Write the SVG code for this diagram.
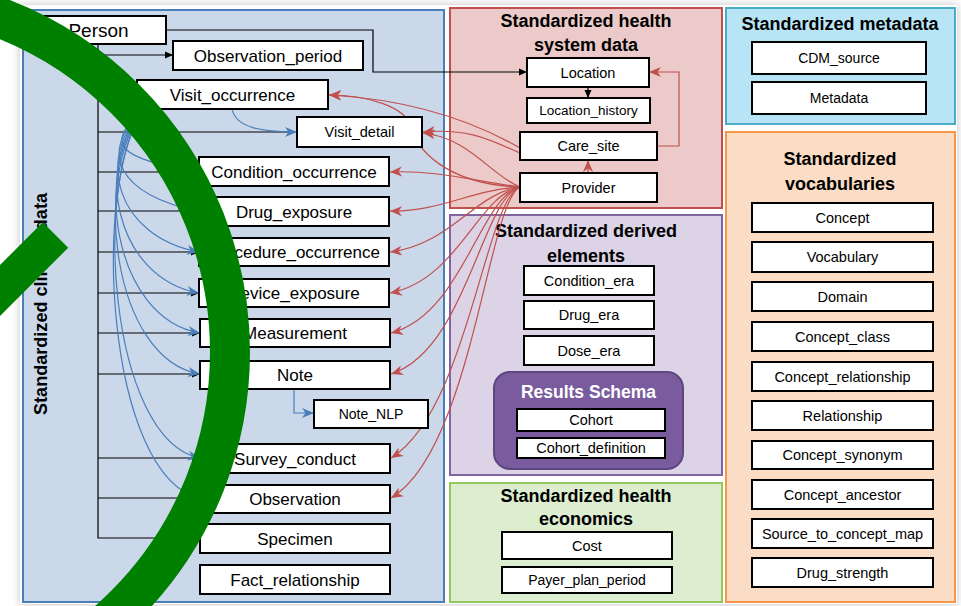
<svg xmlns="http://www.w3.org/2000/svg" width="961" height="606" viewBox="0 0 961 606">
  <defs>
    <style>
      .box { fill: #ffffff; stroke: #000000; stroke-width: 2; }
      .lbl { font-family: "Liberation Sans", Arial, sans-serif; font-size: 17px; fill: #000; text-anchor: middle; }
      .sm { font-size: 14.5px; }
      .xs { font-size: 14px; }
      .ttl { font-family: "Liberation Sans", Arial, sans-serif; font-size: 18px; font-weight: bold; fill: #000; text-anchor: middle; }
      .blk { fill: none; stroke: #000; stroke-width: 1.2; }
      .red { fill: none; stroke: #c0504d; stroke-width: 1.2; }
      .blu { fill: none; stroke: #4a7ebb; stroke-width: 1.2; }
      .ban { fill: none; stroke: #008000; }
    </style>
    <marker id="aBlk" markerUnits="userSpaceOnUse" markerWidth="10" markerHeight="10" refX="9" refY="5" orient="auto">
      <path d="M1,1.5 L9,5 L1,8.5 z" fill="#000"/>
    </marker>
    <marker id="aRed" markerUnits="userSpaceOnUse" markerWidth="13" markerHeight="12" refX="12" refY="6" orient="auto">
      <path d="M0,1 L12,6 L0,11 L3.5,6 z" fill="#c0504d"/>
    </marker>
    <marker id="aBlu" markerUnits="userSpaceOnUse" markerWidth="13" markerHeight="12" refX="12" refY="6" orient="auto">
      <path d="M0,1 L12,6 L0,11 L3.5,6 z" fill="#4a7ebb"/>
    </marker>
    <filter id="shadow" x="-5%" y="-5%" width="110%" height="110%">
      <feDropShadow dx="0" dy="0" stdDeviation="4" flood-color="#000" flood-opacity="0.25"/>
    </filter>
  </defs>

  <!-- page -->
  <rect width="961" height="606" fill="#ffffff"/>
  <rect x="20" y="5" width="937" height="599" fill="#ffffff" filter="url(#shadow)"/>

  <!-- panels -->
  <g id="panels">
    <rect id="clinical-panel" x="23" y="10" width="421" height="592" fill="#cbd8ea" stroke="#4a7ebb" stroke-width="2"/>
    <rect id="health-system-panel" x="450" y="8" width="272" height="200" fill="#ebcac9" stroke="#c0504d" stroke-width="2"/>
    <rect id="derived-panel" x="450" y="215" width="272" height="260" fill="#dcd3e6" stroke="#8064a2" stroke-width="2"/>
    <rect id="economics-panel" x="450" y="483" width="272" height="119" fill="#dcedd0" stroke="#92c95a" stroke-width="2"/>
    <rect id="metadata-panel" x="726" y="8" width="229" height="116" fill="#b8e5f6" stroke="#4bacc6" stroke-width="2"/>
    <rect id="vocab-panel" x="726" y="132" width="229" height="470" fill="#fbdcc5" stroke="#f79646" stroke-width="2"/>

    <text class="ttl" transform="translate(47,304) rotate(-90)" textLength="222" lengthAdjust="spacingAndGlyphs">Standardized clinical data</text>
    <text class="ttl" x="586" y="27">Standardized health</text>
    <text class="ttl" x="586" y="51">system data</text>
    <text class="ttl" x="586" y="237">Standardized derived</text>
    <text class="ttl" x="586" y="262">elements</text>
    <text class="ttl" x="586" y="502">Standardized health</text>
    <text class="ttl" x="586" y="525">economics</text>
    <text class="ttl" x="840" y="30">Standardized metadata</text>
    <text class="ttl" x="840" y="165">Standardized</text>
    <text class="ttl" x="840" y="190">vocabularies</text>
  </g>

  <!-- connectors -->
  <g id="connectors">
    <!-- Person links -->
    <path class="blk" d="M98,44 V538 H200"/>
    <path class="blk" d="M98,55 H173" marker-end="url(#aBlk)"/>
    <path class="blk" d="M98,132 H292"/>
    <path class="blk" d="M98,172 H199" marker-end="url(#aBlk)"/>
    <path class="blk" d="M98,211 H199" marker-end="url(#aBlk)"/>
    <path class="blk" d="M98,252 H199" marker-end="url(#aBlk)"/>
    <path class="blk" d="M98,293 H199" marker-end="url(#aBlk)"/>
    <path class="blk" d="M98,333 H200" marker-end="url(#aBlk)"/>
    <path class="blk" d="M98,374 H200" marker-end="url(#aBlk)"/>
    <path class="blk" d="M98,458 H200" marker-end="url(#aBlk)"/>
    <path class="blk" d="M98,498 H200" marker-end="url(#aBlk)"/>
    <path class="blk" d="M166,30 H373 V72 H527" marker-end="url(#aBlk)"/>
    <path class="blk" d="M588,87 V98" marker-end="url(#aBlk)"/>

    <!-- Visit links -->
    <path class="blu" d="M232,109 C236,128 262,132 297,132" marker-end="url(#aBlu)"/>
    <path class="blu" d="M145,109 C100,145 122,160 199,172" marker-end="url(#aBlu)"/>
    <path class="blu" d="M145,109 C96,150 118,196 199,211" marker-end="url(#aBlu)"/>
    <path class="blu" d="M145,109 C94,155 116,237 199,252" marker-end="url(#aBlu)"/>
    <path class="blu" d="M145,109 C93,160 114,278 199,293" marker-end="url(#aBlu)"/>
    <path class="blu" d="M145,109 C92,165 112,318 200,333" marker-end="url(#aBlu)"/>
    <path class="blu" d="M145,109 C92,170 110,359 200,374" marker-end="url(#aBlu)"/>
    <path class="blu" d="M145,109 C92,175 108,440 200,458" marker-end="url(#aBlu)"/>
    <path class="blu" d="M145,109 C90,180 106,478 200,498" marker-end="url(#aBlu)"/>
    <path class="blu" d="M294,389 V413 H314" marker-end="url(#aBlu)"/>

    <!-- Care_site / Provider links -->
    <path class="red" d="M657,146 H679 V72 H649" marker-end="url(#aRed)"/>
    <path class="red" d="M588,173 V160" marker-end="url(#aRed)"/>
    <path class="red" d="M520,148 C480,125 420,100 329,95" marker-end="url(#aRed)"/>
    <path class="red" d="M520,153 C490,140 470,128 423,132" marker-end="url(#aRed)"/>
    <path class="red" d="M520,187 C460,185 420,160 410,125 C405,108 370,95 329,95" marker-end="url(#aRed)"/>
    <path class="red" d="M520,187 C490,175 470,138 423,133" marker-end="url(#aRed)"/>
    <path class="red" d="M520,187 C470,180 435,170 390,172" marker-end="url(#aRed)"/>
    <path class="red" d="M520,187 C470,190 440,212 390,211" marker-end="url(#aRed)"/>
    <path class="red" d="M520,187 C475,193 450,245 390,252" marker-end="url(#aRed)"/>
    <path class="red" d="M520,187 C478,195 458,280 390,293" marker-end="url(#aRed)"/>
    <path class="red" d="M520,187 C480,197 462,315 391,333" marker-end="url(#aRed)"/>
    <path class="red" d="M520,187 C482,198 466,350 391,374" marker-end="url(#aRed)"/>
    <path class="red" d="M520,187 C485,200 468,410 391,458" marker-end="url(#aRed)"/>
    <path class="red" d="M520,187 C488,202 472,450 391,498" marker-end="url(#aRed)"/>
  </g>

  <!-- clinical data tables -->
  <g id="person"><rect class="box" x="31" y="16" width="135" height="28"/><text class="lbl" x="98.5" y="36.5" style="font-size:19px">Person</text></g>
  <g id="observation-period"><rect class="box" x="173" y="41" width="190" height="29"/><text class="lbl" x="268" y="61.5">Observation_period</text></g>
  <g id="visit-occurrence"><rect class="box" x="137" y="80" width="191" height="29"/><text class="lbl" x="232.5" y="100.5">Visit_occurrence</text></g>
  <g id="visit-detail"><rect class="box" x="297" y="117" width="125" height="30"/><text class="lbl sm" x="359.5" y="137">Visit_detail</text></g>
  <g id="condition-occurrence"><rect class="box" x="199" y="157" width="190" height="29"/><text class="lbl" x="294" y="177.5">Condition_occurrence</text></g>
  <g id="drug-exposure"><rect class="box" x="199" y="197" width="190" height="29"/><text class="lbl" x="294" y="217.5">Drug_exposure</text></g>
  <g id="procedure-occurrence"><rect class="box" x="199" y="238" width="190" height="28"/><text class="lbl" x="294" y="258">Procedure_occurrence</text></g>
  <g id="device-exposure"><rect class="box" x="199" y="279" width="190" height="28"/><text class="lbl" x="294" y="299">Device_exposure</text></g>
  <g id="measurement"><rect class="box" x="200" y="319" width="190" height="28"/><text class="lbl" x="295" y="339">Measurement</text></g>
  <g id="note"><rect class="box" x="200" y="361" width="190" height="28"/><text class="lbl" x="295" y="381">Note</text></g>
  <g id="note-nlp"><rect class="box" x="314" y="400" width="114" height="28"/><text class="lbl xs" x="371" y="419">Note_NLP</text></g>
  <g id="survey-conduct"><rect class="box" x="200" y="444" width="190" height="29"/><text class="lbl" x="295" y="464.5">Survey_conduct</text></g>
  <g id="observation"><rect class="box" x="200" y="485" width="190" height="28"/><text class="lbl" x="295" y="505">Observation</text></g>
  <g id="specimen"><rect class="box" x="200" y="524" width="190" height="29"/><text class="lbl" x="295" y="544.5">Specimen</text></g>
  <g id="fact-relationship"><rect class="box" x="200" y="565" width="190" height="29"/><text class="lbl" x="295" y="585.5">Fact_relationship</text></g>

  <!-- health system tables -->
  <g id="location"><rect class="box" x="527" y="58" width="122" height="29"/><text class="lbl sm" x="588" y="77.5">Location</text></g>
  <g id="location-history"><rect class="box" x="527" y="98" width="123" height="25"/><text class="lbl" x="588.5" y="115" style="font-size:13.5px">Location_history</text></g>
  <g id="care-site"><rect class="box" x="520" y="132" width="137" height="28"/><text class="lbl sm" x="588.5" y="151">Care_site</text></g>
  <g id="provider"><rect class="box" x="520" y="173" width="137" height="29"/><text class="lbl sm" x="588.5" y="192.5">Provider</text></g>

  <!-- derived elements -->
  <g id="condition-era"><rect class="box" x="524" y="266" width="130" height="29"/><text class="lbl sm" x="589" y="285.5">Condition_era</text></g>
  <g id="drug-era"><rect class="box" x="524" y="301" width="130" height="28"/><text class="lbl sm" x="589" y="320">Drug_era</text></g>
  <g id="dose-era"><rect class="box" x="524" y="336" width="130" height="29"/><text class="lbl sm" x="589" y="355.5">Dose_era</text></g>
  <g id="results-schema">
    <rect x="494" y="372" width="189" height="97" rx="16" fill="#7a5c9e" stroke="#5e4681" stroke-width="2"/>
    <text class="ttl" x="588.5" y="398" style="fill:#fff;font-size:17.5px">Results Schema</text>
    <g id="cohort"><rect class="box" x="517" y="409" width="148" height="22"/><text class="lbl sm" x="591" y="425">Cohort</text></g>
    <g id="cohort-definition"><rect class="box" x="517" y="438" width="148" height="20"/><text class="lbl sm" x="591" y="453">Cohort_definition</text></g>
  </g>

  <!-- health economics -->
  <g id="cost"><rect class="box" x="502" y="532" width="170" height="27"/><text class="lbl sm" x="587" y="550.5">Cost</text></g>
  <g id="payer-plan-period"><rect class="box" x="502" y="567" width="170" height="26"/><text class="lbl xs" x="587" y="585">Payer_plan_period</text></g>

  <!-- metadata -->
  <g id="cdm-source"><rect class="box" x="752" y="42" width="174" height="32"/><text class="lbl xs" x="839" y="63">CDM_source</text></g>
  <g id="metadata"><rect class="box" x="752" y="82" width="174" height="32"/><text class="lbl xs" x="839" y="103">Metadata</text></g>

  <!-- vocabularies -->
  <g id="concept"><rect class="box" x="752" y="203" width="181" height="29"/><text class="lbl sm" x="842.5" y="222.5">Concept</text></g>
  <g id="vocabulary"><rect class="box" x="752" y="242" width="181" height="30"/><text class="lbl sm" x="842.5" y="262">Vocabulary</text></g>
  <g id="domain"><rect class="box" x="752" y="282" width="181" height="29"/><text class="lbl sm" x="842.5" y="301.5">Domain</text></g>
  <g id="concept-class"><rect class="box" x="752" y="322" width="181" height="29"/><text class="lbl sm" x="842.5" y="341.5">Concept_class</text></g>
  <g id="concept-relationship"><rect class="box" x="752" y="362" width="181" height="29"/><text class="lbl sm" x="842.5" y="381.5">Concept_relationship</text></g>
  <g id="relationship"><rect class="box" x="752" y="401" width="181" height="29"/><text class="lbl sm" x="842.5" y="420.5">Relationship</text></g>
  <g id="concept-synonym"><rect class="box" x="752" y="441" width="181" height="28"/><text class="lbl sm" x="842.5" y="460">Concept_synonym</text></g>
  <g id="concept-ancestor"><rect class="box" x="752" y="480" width="181" height="29"/><text class="lbl sm" x="842.5" y="499.5">Concept_ancestor</text></g>
  <g id="source-to-concept-map"><rect class="box" x="752" y="519" width="181" height="29"/><text class="lbl sm" x="842.5" y="538.5">Source_to_concept_map</text></g>
  <g id="drug-strength"><rect class="box" x="752" y="558" width="181" height="29"/><text class="lbl sm" x="842.5" y="577.5">Drug_strength</text></g>

  <!-- green prohibition mark drawn over the left side -->
  <g id="prohibition-mark">
    <circle class="ban" cx="-128" cy="352" r="358" stroke-width="40"/>
    <line class="ban" x1="55.5" y1="235" x2="-120" y2="410.5" stroke-width="36"/>
  </g>
</svg>
